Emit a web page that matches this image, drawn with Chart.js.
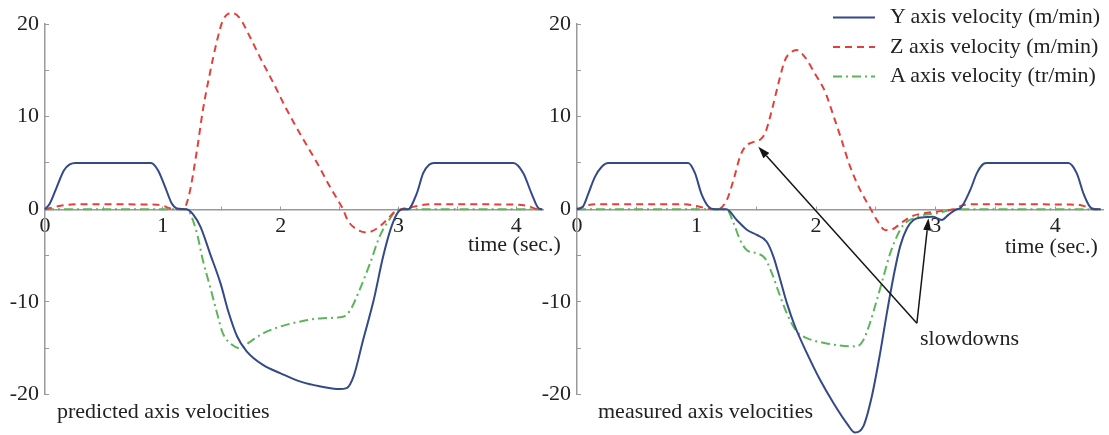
<!DOCTYPE html>
<html>
<head>
<meta charset="utf-8">
<script src="https://cdn.jsdelivr.net/npm/chart.js@4.4.1/dist/chart.umd.min.js"></script>
<style>
html,body{margin:0;padding:0;background:#fff;}
body{width:1109px;height:435px;position:relative;overflow:hidden;font-family:'Liberation Serif','Times New Roman',serif;color:#222;}
.box{position:absolute;top:0;height:435px;}
.txt{position:absolute;font-size:22px;line-height:22px;white-space:nowrap;color:#222;}
#legend svg{position:absolute;left:0;top:0;overflow:visible;}
</style>
</head>
<body>
<div class="box" style="left:0;width:555px;"><canvas id="leftChart"></canvas></div>
<div class="box" style="left:520px;width:589px;"><canvas id="rightChart"></canvas></div>
<div class="txt" style="left:57px;top:400px;">predicted axis velocities</div>
<div class="txt" style="left:598px;top:400px;">measured axis velocities</div>
<div class="txt" style="left:468px;top:233px;">time (sec.)</div>
<div class="txt" style="left:1005px;top:235px;">time (sec.)</div>
<div class="txt" style="left:920px;top:327px;">slowdowns</div>
<div id="legend"></div>
<script>
// ---- data: [time (s), velocity] ----
const predictedY = [[0,0],[0.04,0.6],[0.1,2.4],[0.16,4.2],[0.21,4.85],[0.26,5],[0.9,5],[0.96,4.2],[1.02,2.4],[1.075,0.65],[1.12,0.1],[1.2,0],[1.26,-0.6],[1.32,-1.9],[1.4,-4.75],[1.49,-8],[1.56,-11.2],[1.63,-13.7],[1.71,-15.3],[1.85,-16.8],[2.0,-17.7],[2.17,-18.6],[2.33,-19.1],[2.5,-19.4],[2.56,-19.3],[2.62,-18],[2.7,-14.1],[2.79,-9.8],[2.87,-5.1],[2.94,-1.9],[3.0,-0.25],[3.04,0],[3.08,0],[3.155,1.7],[3.21,3.9],[3.26,4.8],[3.3,5],[3.975,5],[4.06,3.9],[4.13,1.7],[4.19,0.1],[4.22,0]];
const predictedZ = [[0,0],[0.1,0.3],[0.2,0.5],[0.3,0.55],[0.95,0.5],[1.0,0.4],[1.05,0.15],[1.1,0],[1.17,0],[1.22,1.4],[1.29,6.4],[1.34,10.7],[1.4,14.7],[1.46,18.2],[1.51,20.4],[1.585,21.2],[1.655,20.6],[1.74,18.6],[1.825,16.4],[1.94,13.6],[2.05,10.8],[2.19,7.6],[2.31,5.0],[2.42,2.4],[2.49,0.9],[2.53,0],[2.57,-1.2],[2.65,-2.2],[2.73,-2.5],[2.82,-2.05],[2.9,-1.15],[2.97,-0.25],[3.02,0],[3.1,0.2],[3.2,0.45],[3.3,0.55],[4.0,0.5],[4.1,0.35],[4.19,0],[4.22,0]];
const predictedA = [[0,0],[1.2,0],[1.23,-0.4],[1.29,-2.6],[1.34,-5.5],[1.4,-8.3],[1.46,-11.2],[1.51,-13.4],[1.585,-14.6],[1.655,-15.0],[1.74,-14.3],[1.85,-13.4],[2.0,-12.65],[2.17,-12.1],[2.36,-11.75],[2.53,-11.6],[2.59,-10.9],[2.67,-8.7],[2.76,-5.8],[2.84,-2.95],[2.93,-0.97],[2.985,-0.1],[3.03,0],[4.22,0]];
const measuredY = [[0,0],[0.05,0.3],[0.095,1.7],[0.15,3.5],[0.207,4.6],[0.262,5],[0.93,5],[0.987,3.9],[1.04,1.7],[1.1,0.28],[1.15,0],[1.25,0],[1.336,-1.15],[1.42,-2.2],[1.504,-2.77],[1.587,-3.5],[1.643,-5.1],[1.7,-7.6],[1.755,-10.1],[1.824,-12.65],[1.922,-15.5],[2.033,-18.4],[2.145,-20.9],[2.257,-23.1],[2.326,-24.1],[2.396,-23.4],[2.466,-20.2],[2.536,-15.5],[2.592,-11.2],[2.647,-7.3],[2.703,-4.0],[2.76,-2.05],[2.815,-1.15],[2.898,-0.86],[2.98,-0.8],[3.05,-1.15],[3.107,-0.6],[3.177,0],[3.205,0.1],[3.29,2.1],[3.345,3.9],[3.4,4.9],[3.43,5],[4.11,5],[4.18,3.9],[4.237,1.7],[4.29,0.28],[4.32,0],[4.38,0]];
const measuredZ = [[0,0],[0.08,0.4],[0.15,0.55],[0.9,0.55],[1.0,0.35],[1.1,0.05],[1.18,0],[1.253,1.0],[1.31,3.2],[1.364,5.7],[1.406,6.75],[1.462,7.2],[1.53,7.5],[1.573,8.2],[1.63,10.7],[1.685,13.6],[1.74,16.1],[1.797,17.0],[1.838,17.2],[1.908,16.4],[1.99,14.65],[2.075,12.7],[2.14,10.3],[2.21,7.6],[2.285,4.6],[2.368,2.1],[2.45,0.2],[2.51,-1.2],[2.58,-2.25],[2.64,-2.15],[2.72,-1.4],[2.8,-0.75],[2.9,-0.43],[3.0,-0.26],[3.1,-0.1],[3.15,0],[3.23,0.45],[3.36,0.55],[4.18,0.5],[4.27,0.25],[4.35,0],[4.38,0]];
const measuredA = [[0,0],[1.25,0],[1.31,-1.5],[1.364,-3.3],[1.42,-4.4],[1.504,-4.75],[1.573,-5.3],[1.63,-6.9],[1.7,-9.4],[1.768,-11.6],[1.838,-13.2],[1.922,-13.9],[2.06,-14.4],[2.2,-14.7],[2.34,-14.8],[2.396,-14.1],[2.45,-12.3],[2.508,-9.8],[2.563,-7.3],[2.62,-4.75],[2.675,-2.95],[2.73,-1.7],[2.815,-0.97],[2.9,-0.6],[3.01,-0.43],[3.12,-0.1],[3.2,0],[4.38,0]];
const seriesLabels = ['Y axis velocity (m/min)', 'Z axis velocity (m/min)', 'A axis velocity (tr/min)'];
const yMajorTicks = [-20, -10, 0, 10, 20];
const xMajorTicks = [0, 1, 2, 3, 4];

// ---- styles ----
const seriesStyles = [
  {color: '#33498a', dash: []},
  {color: '#e3403a', dash: [7, 5]},
  {color: '#5db55a', dash: [9, 4, 2, 4]}
];
const FONT = {family: "'Liberation Serif', 'Times New Roman', serif", size: 22};
const AXIS_GRAY = '#9a9a9a';

const arrowPlugin = {
  id: 'arrows',
  afterDatasetsDraw(chart, args, opts) {
    if (!opts || !opts.items) return;
    const ctx = chart.ctx, xs = chart.scales.x, ys = chart.scales.y;
    ctx.save();
    ctx.strokeStyle = opts.color; ctx.fillStyle = opts.color; ctx.lineWidth = opts.width;
    for (const a of opts.items) {
      const x1 = xs.getPixelForValue(a.from[0]), y1 = ys.getPixelForValue(a.from[1]);
      const x2 = xs.getPixelForValue(a.to[0]), y2 = ys.getPixelForValue(a.to[1]);
      const ang = Math.atan2(y2 - y1, x2 - x1);
      const L = 12, W = 4;
      const bx = x2 - L * Math.cos(ang), by = y2 - L * Math.sin(ang);
      ctx.beginPath(); ctx.moveTo(x1, y1); ctx.lineTo(bx, by); ctx.stroke();
      ctx.beginPath(); ctx.moveTo(x2, y2);
      ctx.lineTo(bx + W * Math.sin(ang), by - W * Math.cos(ang));
      ctx.lineTo(bx - W * Math.sin(ang), by + W * Math.cos(ang));
      ctx.closePath(); ctx.fill();
    }
    ctx.restore();
  }
};

function makeChart(id, series, xMax, yAxisWidth, padRight, arrows) {
  const datasets = series.map((pts, i) => ({
    label: seriesLabels[i],
    data: pts.map(p => ({x: p[0], y: p[1]})),
    borderColor: seriesStyles[i].color,
    borderDash: seriesStyles[i].dash,
    borderWidth: 2,
    pointRadius: 0,
    fill: false,
    clip: false,
    cubicInterpolationMode: 'monotone'
  }));
  return new Chart(document.getElementById(id), {
    type: 'line',
    data: {datasets},
    plugins: [arrowPlugin],
    options: {
      responsive: true, maintainAspectRatio: false, animation: false,
      layout: {padding: {top: 24, bottom: 40.4, left: 0, right: padRight}},
      plugins: {
        legend: {display: false}, tooltip: {enabled: false},
        arrows: arrows
      },
      scales: {
        x: {
          type: 'linear', min: 0, max: xMax, position: {y: 0},
          border: {color: AXIS_GRAY, width: 1.5},
          grid: {drawOnChartArea: false, drawTicks: true, tickLength: -4, color: AXIS_GRAY, lineWidth: 1},
          ticks: {stepSize: 0.5, includeBounds: false, autoSkip: false, maxRotation: 0, padding: 8,
                  color: '#222', font: FONT,
                  callback: v => xMajorTicks.includes(v) ? String(v) : ''}
        },
        y: {
          type: 'linear', min: -20, max: 20, position: 'left',
          afterFit: s => { s.width = yAxisWidth; },
          border: {color: AXIS_GRAY, width: 1.5},
          grid: {drawOnChartArea: false, drawTicks: true, tickLength: -4, color: AXIS_GRAY, lineWidth: 1},
          ticks: {stepSize: 5, padding: 10, color: '#222', font: FONT,
                  callback: v => yMajorTicks.includes(v) ? String(v) : ''}
        }
      }
    }
  });
}

makeChart('leftChart', [predictedY, predictedZ, predictedA], 4.227, 45, 12, null);
makeChart('rightChart', [measuredY, measuredZ, measuredA], 4.40, 57, 6, {
  color: '#151515', width: 1.5,
  items: [
    {from: [2.843, -12.3], to: [1.517, 6.75]},
    {from: [2.843, -12.3], to: [2.94, -0.97]}
  ]
});

// ---- legend (HTML) ----
(function buildLegend() {
  const lg = document.getElementById('legend');
  const rowBase = [23.5, 53, 82.5];
  let svg = '<svg width="1109" height="435" xmlns="http://www.w3.org/2000/svg">';
  seriesLabels.forEach((lab, i) => {
    const y = rowBase[i] - 6;
    svg += '<line x1="833" x2="875" y1="' + y + '" y2="' + y + '" stroke="' + seriesStyles[i].color +
           '" stroke-width="2" stroke-dasharray="' + (seriesStyles[i].dash.join(',') || 'none') + '"/>';
  });
  svg += '</svg>';
  let html = svg;
  seriesLabels.forEach((lab, i) => {
    html += '<div class="txt" style="left:890px;top:' + (rowBase[i] - 18.4) + 'px;">' + lab + '</div>';
  });
  lg.innerHTML = html;
})();
</script>
</body>
</html>
